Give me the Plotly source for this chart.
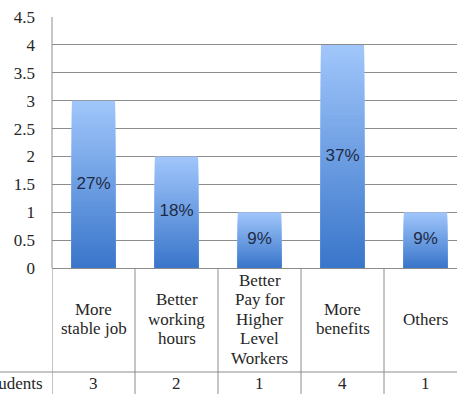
import plotly.graph_objects as go

categories = ["More<br>stable job", "Better<br>working<br>hours", "Better<br>Pay for<br>Higher<br>Level<br>Workers", "More<br>benefits", "Others"]
students = [3, 2, 1, 4, 1]
percent_labels = ["27%", "18%", "9%", "37%", "9%"]
row_label = "Students"
y_ticks = [0, 0.5, 1, 1.5, 2, 2.5, 3, 3.5, 4, 4.5]

W, H = 457, 394
ML, MR, MT, MB = 52, 0, 17, 126

x_idx = list(range(len(categories)))

top_rgb = (160, 198, 251)
bot_rgb = (58, 118, 202)
N = 60

fig = go.Figure()
# gradient bars: overlay progressively shorter bars with darker colours
for k in range(N):
    frac = 1 - k / N
    t = k / (N - 1)
    c = tuple(int(round(top_rgb[i] + (bot_rgb[i] - top_rgb[i]) * t)) for i in range(3))
    fig.add_trace(go.Bar(
        x=x_idx, y=[v * frac for v in students], width=0.52,
        marker=dict(color="rgb(%d,%d,%d)" % c, line=dict(width=0)),
        hoverinfo="skip", showlegend=False,
    ))

fig.add_trace(go.Scatter(
    x=x_idx, y=[v / 2 for v in students], mode="text", text=percent_labels,
    textfont=dict(family="Liberation Sans, Arial, sans-serif", size=17, color="#1f2b44"),
    hoverinfo="skip", showlegend=False,
))

shapes = []
grid_col = "#8c8c8c"
shapes.append(dict(type="line", xref="paper", yref="paper", x0=0, x1=0, y0=0, y1=1,
                   line=dict(color=grid_col, width=1)))
plot_h = H - MT - MB
table_bottom = -(MB + 5) / plot_h
for i in range(len(categories)):
    shapes.append(dict(type="line", xref="x", yref="paper", x0=i - 0.5, x1=i - 0.5,
                       y0=0, y1=table_bottom, line=dict(color=grid_col, width=1)))
row_y = -(372 - (H - MB)) / plot_h
shapes.append(dict(type="line", xref="paper", yref="paper", x0=-ML / (W - ML - MR), x1=1.1,
                   y0=row_y, y1=row_y, line=dict(color=grid_col, width=1)))


def py(px):
    return -(px - (H - MB)) / plot_h


annotations = []
serif = "Liberation Serif, DejaVu Serif, serif"
txt_col = "#262626"
line_gap = 19.5
center_px = 319
for i, cat in enumerate(categories):
    lines = cat.split("<br>")
    n = len(lines)
    for j, ln in enumerate(lines):
        ypx = center_px + (j - (n - 1) / 2) * line_gap
        annotations.append(dict(x=i, y=py(ypx), xref="x", yref="paper", text=ln, showarrow=False,
                                xanchor="center", yanchor="middle",
                                font=dict(family=serif, size=17, color=txt_col)))
    annotations.append(dict(x=i, y=py(383), xref="x", yref="paper", text=str(students[i]), showarrow=False,
                            xanchor="center", yanchor="middle",
                            font=dict(family=serif, size=17, color=txt_col)))
annotations.append(dict(x=-7 / (W - ML - MR), y=py(383), xref="paper", yref="paper", text=row_label,
                        showarrow=False, xanchor="right", yanchor="middle",
                        font=dict(family=serif, size=17, color=txt_col)))

fig.update_layout(
    width=W, height=H,
    margin=dict(l=ML, r=MR, t=MT, b=MB, pad=0),
    barmode="overlay",
    plot_bgcolor="white", paper_bgcolor="white",
    xaxis=dict(range=[-0.5, -0.5 + (W - ML - MR) / 83.0], showticklabels=False, showgrid=False,
               zeroline=False, showline=False, ticks="", fixedrange=True),
    yaxis=dict(range=[0, 4.5], tickvals=y_ticks, ticktext=[("%g" % v) for v in y_ticks],
               showgrid=True, gridcolor=grid_col, gridwidth=1, zeroline=True, zerolinecolor=grid_col,
               zerolinewidth=1, showline=False, ticks="", ticklabelstandoff=16,
               tickfont=dict(family=serif, size=17, color=txt_col)),
    shapes=shapes, annotations=annotations,
)

fig.write_html("out.html")
